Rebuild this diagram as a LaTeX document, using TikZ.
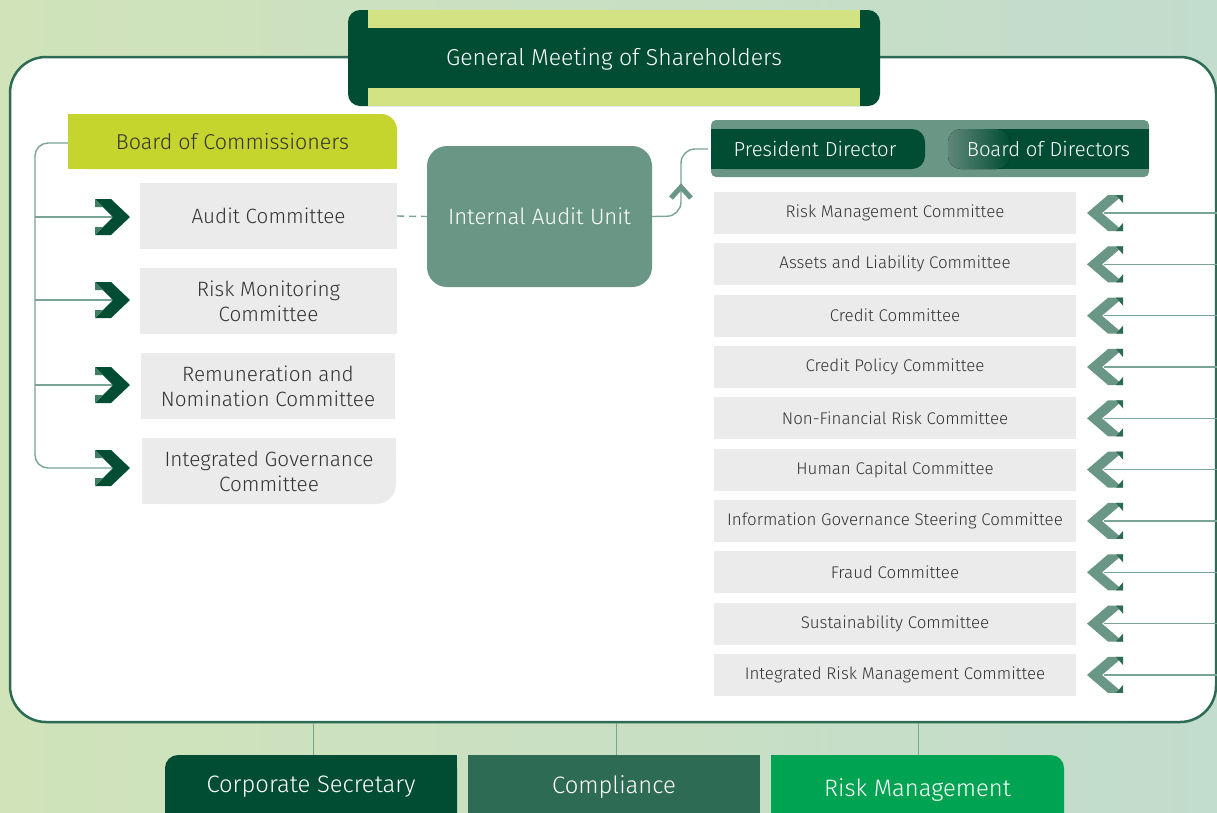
\documentclass[tikz,border=0pt]{standalone}
\usepackage{fontspec}
\setmainfont{Fira Sans Light}
\usetikzlibrary{calc}
\definecolor{dkg}{HTML}{004D33}
\definecolor{midg}{HTML}{2E6B55}
\definecolor{tealg}{HTML}{6A9686}
\definecolor{lineg}{HTML}{7AA596}
\definecolor{limeg}{HTML}{C5D52E}
\definecolor{lightlime}{HTML}{D3E384}
\definecolor{grayb}{HTML}{EBEBEB}
\definecolor{txt}{HTML}{333333}
\definecolor{brightg}{HTML}{00A351}
\definecolor{bgL}{HTML}{D0E3B9}
\definecolor{bgR}{HTML}{C2DCCD}
\definecolor{chevlight}{HTML}{3F7D64}
\begin{document}
\begin{tikzpicture}[x=1pt,y=-1pt,
  conn/.style={draw=lineg, line width=1.4pt},
  lbox/.style={fill=grayb, minimum width=257pt, minimum height=66pt, inner sep=0pt, align=center, text=txt, font=\fontsize{20.7}{25}\selectfont},
  rbox/.style={fill=grayb, minimum width=362pt, minimum height=42pt, inner sep=0pt, text=txt, font=\fontsize{16.9}{20}\selectfont},
  wtext/.style={text=white, inner sep=0pt},
  darkchev/.pic={
    \fill[dkg] (-35,-18) -- (-19,-18) -- (0,0) -- (-19,18) -- (-35,18) -- (-17,0) -- cycle;
    \fill[chevlight] (-35,-18) -- (-35,-10) -- (-27,-10) -- cycle;
    \fill[chevlight] (-35,18) -- (-35,10) -- (-27,10) -- cycle;
  },
  lightchev/.pic={
    \fill[tealg] (0,0) -- (21,-18) -- (36,-18) -- (15,0) -- (36,18) -- (21,18) -- cycle;
    \fill[midg] (29,-18) -- (36,-18) -- (36,-10) -- cycle;
    \fill[midg] (29,18) -- (36,18) -- (36,10) -- cycle;
  }
]
\useasboundingbox (0,0) rectangle (1217,812);
\clip (0,0) rectangle (1217,812);
% background
\fill[left color=bgL, right color=bgR] (0,0) rectangle (1217,812);
% main frame
\fill[white, draw=midg, line width=2.5pt, rounded corners=36pt] (10,57) rectangle (1216,722);
\coordinate (f1) at (313,723);
\coordinate (f2) at (616,723);
\coordinate (f3) at (918,723);

% General meeting
\fill[dkg, rounded corners=12pt] (348,10) rectangle (880,106);
\fill[lightlime] (368,10) rectangle (860,28);
\fill[lightlime] (368,88) rectangle (860,106);
\node[wtext, font=\fontsize{23}{26}\selectfont] (gms) at (614,59) {General Meeting of Shareholders};

% Board of Commissioners
\fill[limeg, rounded corners=16pt] (68,114) rectangle (397,169);
\fill[limeg] (68,114) rectangle (370,169);
\fill[limeg] (68,140) rectangle (397,169);
\node[inner sep=0pt, minimum width=329pt, minimum height=55pt, text=txt, font=\fontsize{21.5}{24}\selectfont] (boc) at (232.5,141.5) {Board of Commissioners};

% left committees
\node[lbox] (ac) at (268.5,216) {Audit Committee};
\node[lbox] (rmc) at (268.5,301) {Risk Monitoring\\Committee};
\node[lbox, minimum width=254pt] (rnc) at (268,386) {Remuneration and\\Nomination Committee};
\fill[grayb, rounded corners=20pt] (142,438) rectangle (396,504);
\fill[grayb] (142,438) rectangle (370,504);
\fill[grayb] (142,438) rectangle (396,470);
\node[inner sep=0pt, minimum width=254pt, minimum height=66pt, align=center, text=txt, font=\fontsize{20.7}{25}\selectfont] (igc) at (269,471) {Integrated Governance\\Committee};

% left bracket connectors
\coordinate (ca) at (113,217);
\coordinate (cb) at (113,300);
\coordinate (cc) at (113,385);
\coordinate (cd) at (113,468);
\draw[conn, rounded corners=13pt] (boc.west |- 0,143) -- (35,143) -- (35,468) -- (cd);
\draw[conn] (35,217) -- (ca);
\draw[conn] (35,300) -- (cb);
\draw[conn] (35,385) -- (cc);
\path (130,217) pic {darkchev};
\path (130,300) pic {darkchev};
\path (130,385) pic {darkchev};
\path (130,468) pic {darkchev};

% Internal Audit Unit
\node[fill=tealg, rounded corners=20pt, minimum width=225pt, minimum height=141pt, inner sep=0pt, text=white, font=\fontsize{22.2}{26}\selectfont] (iau) at (539.5,216.5) {Internal Audit Unit};
\draw[conn, dash pattern=on 7pt off 5pt] (ac.east) -- (iau.west);

% President Director / Board of Directors
\fill[tealg, rounded corners=5pt] (711,120) rectangle (1149,177);
\fill[dkg, rounded corners=13pt] (711,129) rectangle (925,169);
\fill[dkg] (711,129) rectangle (890,169);
\fill[dkg] (990,129) rectangle (1149,169);
\fill[left color=tealg!90!black, right color=dkg, rounded corners=13pt] (948,129) rectangle (1010,169);
\node[wtext, minimum width=214pt, minimum height=40pt, font=\fontsize{20.3}{24}\selectfont] (pd) at (815,149) {President Director};
\node[wtext, minimum width=201pt, minimum height=40pt, font=\fontsize{20.3}{24}\selectfont] (bod) at (1048.5,149) {Board of Directors};

\draw[conn, rounded corners=14pt] (iau.east) -- (681,216) -- (681,149) -- (pd.west);
\draw[tealg, line width=5pt] (671,198) -- (681,187) -- (691,198);

% right committees
\foreach \i/\t in {0/Risk Management Committee,
                   1/Assets and Liability Committee,
                   2/Credit Committee,
                   3/Credit Policy Committee,
                   4/Non-Financial Risk Committee,
                   5/Human Capital Committee,
                   6/Information Governance Steering Committee,
                   7/Fraud Committee,
                   8/Sustainability Committee,
                   9/Integrated Risk Management Committee}{
  \pgfmathsetmacro{\yy}{213+51.33*\i}
  \node[rbox] (r\i) at (895,\yy) {\t};
  \coordinate (re\i) at (1217,\yy);
  \coordinate (rc\i) at (1104,\yy);
  \draw[conn] (re\i) -- (rc\i);
  \path (1087,\yy) pic {lightchev};
}

% bottom units
\fill[dkg, rounded corners=13pt] (165,755) rectangle (457,840);
\fill[dkg] (165,770) rectangle (457,840);
\fill[dkg] (190,755) rectangle (457,840);
\fill[midg] (468,755) rectangle (760,840);
\fill[brightg, rounded corners=13pt] (771,755) rectangle (1064,840);
\fill[brightg] (771,770) rectangle (1064,840);
\fill[brightg] (771,755) rectangle (1040,840);
\node[wtext, minimum width=292pt, minimum height=64pt, font=\fontsize{23.8}{26}\selectfont] (cs) at (311,787) {Corporate Secretary};
\node[wtext, minimum width=292pt, minimum height=64pt, font=\fontsize{23.8}{26}\selectfont] (co) at (614,787) {Compliance};
\node[wtext, minimum width=293pt, minimum height=64pt, font=\fontsize{23.8}{26}\selectfont] (rm) at (917.5,790) {Risk Management};
\draw[draw=lineg, line width=1pt] (f1) -- (f1 |- cs.north);
\draw[draw=lineg, line width=1pt] (f2) -- (f2 |- co.north);
\draw[draw=lineg, line width=1pt] (f3) -- (f3 |- 0,755);
\end{tikzpicture}
\end{document}
